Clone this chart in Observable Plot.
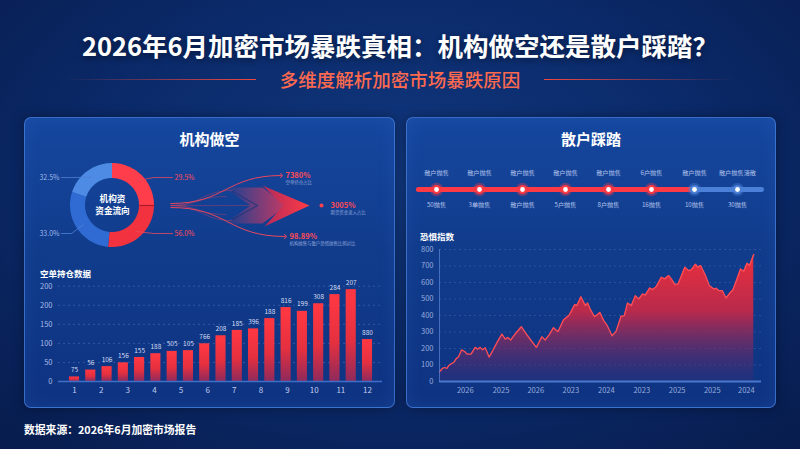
<!DOCTYPE html>
<html lang="zh">
<head>
<meta charset="utf-8">
<script src="https://cdn.jsdelivr.net/npm/d3@7"></script>
<script src="https://cdn.jsdelivr.net/npm/@observablehq/plot@0.6"></script>
<style>
html,body{margin:0;padding:0;background:#071a45;}
#root{position:relative;width:800px;height:449px;overflow:hidden;font-family:"Noto Sans CJK SC","Noto Sans",sans-serif;
 background:radial-gradient(ellipse 75% 85% at 50% 40%, #11387f 0%, #0b2a6a 50%, #071b4b 100%);}
.abs{position:absolute;}
.title{left:0;top:27px;width:800px;text-align:center;color:#fff;font-size:25.5px;font-weight:700;line-height:36px;text-shadow:0 2px 6px rgba(0,0,0,.45);}
.sub{left:0;top:67px;width:800px;text-align:center;color:#ff6a4e;font-size:18.5px;font-weight:500;line-height:24px;}
.line{top:78.5px;height:1.6px;width:190px;}
.panel{top:117px;height:291px;border:1px solid rgba(80,140,235,.65);border-radius:7px;box-sizing:border-box;
 background:linear-gradient(180deg,#15479f 0%,#113c8c 45%,#0e3381 100%);box-shadow:0 0 12px rgba(0,0,0,.35), inset 0 0 18px rgba(80,140,255,.12);}
.ptitle{top:129px;color:#fff;font-weight:700;font-size:15px;text-align:center;line-height:20px;}
.stitle{color:#fff;font-weight:700;font-size:8.5px;line-height:12px;}
.foot{left:24px;top:421px;color:#fff;font-weight:700;font-size:10.8px;line-height:16px;}
</style>
</head>
<body>
<div id="root">
  <div class="abs title">2026年6月加密市场暴跌真相：机构做空还是散户踩踏？</div>
  <div class="abs line" style="left:66px;background:linear-gradient(90deg,rgba(232,60,60,0),#f0483e);"></div>
  <div class="abs line" style="left:544px;background:linear-gradient(90deg,#f0483e,rgba(232,60,60,0));"></div>
  <div class="abs sub">多维度解析加密市场暴跌原因</div>
  <div class="abs panel" style="left:24px;width:371px;"></div>
  <div class="abs panel" style="left:406px;width:370px;"></div>
  <div class="abs ptitle" style="left:24px;width:371px;">机构做空</div>
  <div class="abs ptitle" style="left:406px;width:370px;">散户踩踏</div>
  <div class="abs" id="p1" style="left:24px;top:150px;"></div>
  <div class="abs" id="p2" style="left:24px;top:265px;"></div>
  <div class="abs" id="p3" style="left:406px;top:160px;"></div>
  <div class="abs" id="p4" style="left:406px;top:240px;"></div>
  <div class="abs stitle" style="left:40px;top:267px;">空单持仓数据</div>
  <div class="abs stitle" style="left:420px;top:230px;">恐惧指数</div>
  <div class="abs foot">数据来源：2026年6月加密市场报告</div>
</div>
<script>
// ---------------- data ----------------
const donutLabels = ["29.5%", "56.0%", "33.0%", "32.5%"];
const donutShares = [25, 26.5, 28.5, 20];
const donutColors = ["#ff3d4b", "#f2323f", "#2f6bd3", "#4d8be4"];
const donutCenter = ["机构资", "资金流向"];

const flowLabels = ["7380%", "3005%", "98.89%"];
const flowNotes = ["空单持仓占比", "期货资金流入占比", "机构抛售与散户恐慌抛售比例对比"];

const barValues = [12, 30, 39, 49, 63, 73, 79, 81, 99, 120, 134, 138, 165, 194, 184, 204, 228, 241, 110];
const barLabels = ["75","56","106","156","155","188","505","105","766","208","185","396","188","816","199","308","284","207","880"];
const barMonths = [1,2,3,4,5,6,7,8,9,10,11,12];
const barYTicks = [0, 50, 100, 150, 200, 250];
const barYTickLabels = ["0", "50", "100", "150", "200", "200"];

const stepTop = ["散户抛售","散户抛售","散户抛售","散户抛售","散户抛售","6户抛售","散户抛售","散户抛售溃散"];
const stepBottom = ["50抛售","3单抛售","散户抛售","5户抛售","8户抛售","16抛售","10抛售","30抛售"];
const stepPhase = ["red","red","red","red","red","red","blue","blue"];

const fearT = [0.0,0.9,1.6,2.3,2.8,3.6,4.4,5.1,5.9,6.9,7.8,8.6,9.8,11.1,11.9,12.6,13.4,14.2,15.4,16.5,18.1,19.4,20.4,21.2,22.1,23.5,25.4,26.6,28.5,30.1,31.8,32.8,34.1,35.4,36.8,38.5,40.3,42.0,42.7,43.9,45.3,46.0,46.8,48.1,48.9,49.8,51.0,52.0,53.6,54.8,56.4,57.4,58.4,59.6,60.8,61.9,63.1,63.9,65.3,66.2,67.3,68.9,69.9,71.2,72.2,73.1,74.1,76.2,77.4,78.2,79.5,80.2,81.1,82.6,83.8,85.2,85.9,86.7,87.8,89.0,90.4,91.1,92.4,93.5,94.5,95.5,96.3,97.6];
const fearV = [59,79,85,79,95,107,115,136,150,192,182,166,166,207,196,207,192,205,148,186,245,288,257,267,251,288,332,298,247,207,271,251,284,326,302,373,403,466,460,514,460,476,439,393,403,419,369,342,277,302,395,399,476,460,520,500,531,524,567,557,575,632,622,642,616,587,591,693,672,676,711,693,703,642,581,561,565,551,551,506,541,555,622,682,668,717,703,770];
const fearYTicks = [0,100,200,300,400,500,600,700,800];
const fearXTicks = [8.0,19.1,29.9,40.8,51.8,62.8,73.8,84.7,95.3];
const fearXLabels = ["2026","2025","2026","2023","2024","2023","2025","2025","2024"];

// ---------------- helpers ----------------
const common = {
  style: "background:transparent;overflow:visible;font-family:'Noto Sans CJK SC',sans-serif;",
  color: {type: "identity"}
};
function addDefs(svg, html) {
  const d = document.createElementNS("http://www.w3.org/2000/svg", "defs");
  d.innerHTML = html;
  svg.insertBefore(d, svg.firstChild);
  return svg;
}
const phaseColor = {red: "#ff3a44", blue: "#4a80d8"};

// ---------------- panel 1: donut + flow ----------------
const cx = 112, cy = 205, ro = 42, ri = 27;
const total = d3.sum(donutShares);
let acc = 0;
const ring = [], slices = [];
donutShares.forEach((s, i) => {
  const a0 = acc / total * 2 * Math.PI, a1 = (acc + s) / total * 2 * Math.PI;
  acc += s;
  slices.push({i, a0, a1, mid: (a0 + a1) / 2});
  const n = 48;
  for (let k = 0; k <= n; k++) {
    const a = a0 + (a1 - a0) * k / n;
    ring.push({slice: i, x1: cx + ro * Math.sin(a), y1: cy - ro * Math.cos(a),
               x2: cx + ri * Math.sin(a), y2: cy - ri * Math.cos(a)});
  }
});
const leaders = [], leaderText = [];
slices.forEach(sl => {
  const right = Math.sin(sl.mid) > 0;
  const ly = cy + (Math.cos(sl.mid) > 0 ? -28 : 28);
  const rm = 35;
  const col = right ? "#e8475e" : "#4f80d6";
  leaders.push({i: sl.i, x: cx + rm * Math.sin(sl.mid), y: cy - rm * Math.cos(sl.mid), c: col});
  leaders.push({i: sl.i, x: cx + (right ? 41 : -41), y: ly, c: col});
  leaders.push({i: sl.i, x: cx + (right ? 60 : -51), y: ly, c: col});
  leaderText.push({x: cx + (right ? 62 : -53), y: ly, text: donutLabels[sl.i], right});
});
const divider = [{x1: cx + ri * Math.sin(slices[1].a0), y1: cy - ri * Math.cos(slices[1].a0),
                  x2: cx + ro * Math.sin(slices[1].a0), y2: cy - ro * Math.cos(slices[1].a0)}];

const flowSrc = {x: 170, y: 205};
const flowPos = [{x: 282, y: 175}, {x: 321, y: 205}, {x: 286, y: 236}];
const flowRows = flowLabels.map((t, i) => ({label: t, note: flowNotes[i], ...flowPos[i]}));
const arrows = [flowRows[0], flowRows[2]].map((d, k) => ({x1: flowSrc.x, y1: flowSrc.y + (k ? 2 : -2), x2: d.x - 1, y2: d.y}));
const tails = [{x2: 232, y2: 190}, {x2: 232, y2: 220}, {x2: 250, y2: 205}, {x2: 226, y2: 196}, {x2: 226, y2: 214}]
  .map(d => ({x1: flowSrc.x, y1: flowSrc.y, ...d}));
const chevBack = [{x:224,y:187},{x:262,y:187},{x:286,y:205},{x:262,y:223},{x:224,y:223},{x:250,y:205}];
const chevLine = [{x:232,y:191},{x:257,y:205},{x:232,y:219}];
const chevFront = [{x:262,y:185},{x:309,y:205},{x:264,y:226},{x:283,y:205}];

const p1 = Plot.plot({
  ...common, width: 371, height: 105, margin: 0,
  x: {domain: [24, 395], range: [0, 371], axis: null},
  y: {domain: [150, 255], range: [0, 105], axis: null},
  marks: [
    Plot.link(tails, {x1: "x1", y1: "y1", x2: "x2", y2: "y2", curve: "bump-x", stroke: "#d8405e", strokeOpacity: 0.45, strokeWidth: 0.8}),
    Plot.line(chevBack, {x: "x", y: "y", fill: "url(#chevBack)", stroke: "none"}),
    Plot.line(chevLine, {x: "x", y: "y", stroke: "#18347a", strokeOpacity: 0.7, strokeWidth: 1.2}),
    Plot.line(chevFront, {x: "x", y: "y", fill: "url(#chevFront)", stroke: "none"}),
    Plot.link(arrows, {x1: "x1", y1: "y1", x2: "x2", y2: "y2", curve: "bump-x", stroke: "#e8475e", strokeWidth: 1, markerEnd: "arrow"}),
    Plot.dot([flowRows[1]], {x: d => d.x, y: "y", r: 2, fill: "#ff4150"}),
    Plot.text(flowRows, {x: d => d.x + (d === flowRows[1] ? 9 : 3), y: "y", text: "label", textAnchor: "start", fontSize: 7.5, fontWeight: 700, fill: "#ff4a55"}),
    Plot.text(flowRows, {x: d => d.x + (d === flowRows[1] ? 9 : 3), y: d => d.y + 7, text: "note", textAnchor: "start", fontSize: 4.4, fill: "#8fa6d8"}),
    Plot.area(ring, {x1: "x1", y1: "y1", x2: "x2", y2: "y2", z: "slice", fill: d => donutColors[d.slice]}),
    Plot.link(divider, {x1: "x1", y1: "y1", x2: "x2", y2: "y2", stroke: "#a81c2c", strokeWidth: 1.2}),
    Plot.line(leaders, {x: "x", y: "y", z: "i", stroke: "c", strokeWidth: 0.8}),
    Plot.text(leaderText.filter(d => d.right), {x: "x", y: "y", text: "text", textAnchor: "start", fontSize: 7, fill: "#ff4a55"}),
    Plot.text(leaderText.filter(d => !d.right), {x: "x", y: "y", text: "text", textAnchor: "end", fontSize: 7, fill: "#9fb8e8"}),
    Plot.text(donutCenter, {x: cx, y: (d, i) => cy + (i ? 6.2 : -6.6), text: d => d, fontSize: 8.6, fontWeight: 700, fill: "#ffffff", lineHeight: 1}),
  ]
});
addDefs(p1, `
<linearGradient id="chevBack" x1="0" y1="0" x2="1" y2="0">
  <stop offset="0" stop-color="#e03c64" stop-opacity="0"/>
  <stop offset="1" stop-color="#d8385e" stop-opacity="0.9"/>
</linearGradient>
<linearGradient id="chevFront" x1="0" y1="0" x2="1" y2="0">
  <stop offset="0" stop-color="#b02a5c"/>
  <stop offset="1" stop-color="#ff3b45"/>
</linearGradient>`);
document.getElementById("p1").append(p1);

// ---------------- panel 2: bars ----------------
const barRows = barValues.map((v, j) => ({pos: 1 + j * 11 / 18, v, label: barLabels[j]}));
const barYMap = new Map(barYTicks.map((t, i) => [t, barYTickLabels[i]]));
const p2 = Plot.plot({
  ...common, width: 371, height: 140, marginLeft: 34, marginRight: 13, marginTop: 10, marginBottom: 24,
  x: {domain: [1, 12], range: [50, 343]},
  y: {domain: [0, 250], range: [116, 20.7]},
  marks: [
    Plot.gridY(barYTicks.slice(1), {stroke: "#7fa2e6", strokeOpacity: 0.3, strokeDasharray: "2,3"}),
    Plot.axisY({ticks: barYTicks, tickFormat: d => barYMap.get(d), tickSize: 0, tickPadding: 6, fontSize: 7.5, color: "#a9bbe6", label: null}),
    Plot.axisX({ticks: barMonths, tickFormat: d => String(d), tickSize: 0, tickPadding: 6, fontSize: 8, color: "#c0cdef", label: null}),
    Plot.rectY(barRows, {x1: d => d.pos - 0.19, x2: d => d.pos + 0.19, y1: 0, y2: "v", fill: "url(#barGrad)"}),
    Plot.ruleY([0], {stroke: "#3f6fc8", strokeWidth: 1.5}),
    Plot.text(barRows, {x: "pos", y: "v", text: "label", dy: -7, fontSize: 6.5, fill: "#d5ddf4"})
  ]
});
addDefs(p2, `
<linearGradient id="barGrad" x1="0" y1="0" x2="0" y2="1">
  <stop offset="0" stop-color="#ff3842"/>
  <stop offset="0.55" stop-color="#e6303f"/>
  <stop offset="1" stop-color="#8f2a5c"/>
</linearGradient>`);
document.getElementById("p2").append(p2);

// ---------------- panel 3: timeline ----------------
const steps = stepTop.map((t, i) => ({i: i + 1, top: t, bottom: stepBottom[i], c: phaseColor[stepPhase[i]]}));
const firstBlue = stepPhase.indexOf("blue") + 1;
const track = [
  {a: 0.58, b: firstBlue, c: phaseColor.red},
  {a: firstBlue, b: stepPhase.length + 0.56, c: phaseColor.blue}
];
const p3 = Plot.plot({
  ...common, width: 370, height: 55, margin: 0,
  x: {domain: [1, 8], range: [30, 331], axis: null},
  y: {domain: [-1, 1], range: [45, 13], axis: null},
  marks: [
    Plot.link([track[1]], {x1: "a", x2: "b", y1: 0, y2: 0, stroke: "c", strokeWidth: 5, strokeLinecap: "round"}),
    Plot.link([track[0]], {x1: "a", x2: "b", y1: 0, y2: 0, stroke: "c", strokeWidth: 5, strokeLinecap: "round"}),
    Plot.dot(steps, {x: "i", y: 0, r: 6.8, fill: "c", fillOpacity: 0.35}),
    Plot.dot(steps, {x: "i", y: 0, r: 4.6, fill: "c"}),
    Plot.dot(steps, {x: "i", y: 0, r: 2.4, fill: "#ffffff"}),
    Plot.text(steps, {x: "i", y: 1, text: "top", fontSize: 6.2, fill: "#b3c3ec"}),
    Plot.text(steps, {x: "i", y: -1, text: "bottom", fontSize: 6.2, fill: "#b3c3ec"})
  ]
});
document.getElementById("p3").append(p3);

// ---------------- panel 4: fear index ----------------
const fear = fearT.map((t, i) => ({t, v: fearV[i]}));
const fearXMap = new Map(fearXTicks.map((t, i) => [t, fearXLabels[i]]));
const p4 = Plot.plot({
  ...common, width: 370, height: 165, marginLeft: 33, marginRight: 15, marginTop: 9, marginBottom: 24,
  x: {domain: [0, 100], range: [33, 355]},
  y: {domain: [0, 800], range: [141, 9]},
  marks: [
    Plot.gridY(fearYTicks.slice(1), {stroke: "#7fa2e6", strokeOpacity: 0.22, strokeDasharray: "2,3"}),
    Plot.axisY({ticks: fearYTicks, tickSize: 0, tickPadding: 6, fontSize: 7.5, color: "#98acdc", label: null}),
    Plot.axisX({ticks: fearXTicks, tickFormat: d => fearXMap.get(d), tickSize: 0, tickPadding: 6, fontSize: 7.5, color: "#98acdc", label: null}),
    Plot.areaY(fear, {x: "t", y: "v", fill: "url(#areaGrad)"}),
    Plot.lineY(fear, {x: "t", y: "v", stroke: "#ff4d55", strokeWidth: 1.3}),
    Plot.ruleX([0], {stroke: "#5b86d6", strokeOpacity: 0.7}),
    Plot.ruleY([0], {stroke: "#4a78cc", strokeWidth: 2})
  ]
});
addDefs(p4, `
<linearGradient id="areaGrad" x1="0" y1="0" x2="0" y2="1">
  <stop offset="0" stop-color="#ec2f3c"/>
  <stop offset="0.45" stop-color="#b82a4c"/>
  <stop offset="1" stop-color="#3a2a78" stop-opacity="0.35"/>
</linearGradient>`);
document.getElementById("p4").append(p4);
</script>
</body>
</html>
